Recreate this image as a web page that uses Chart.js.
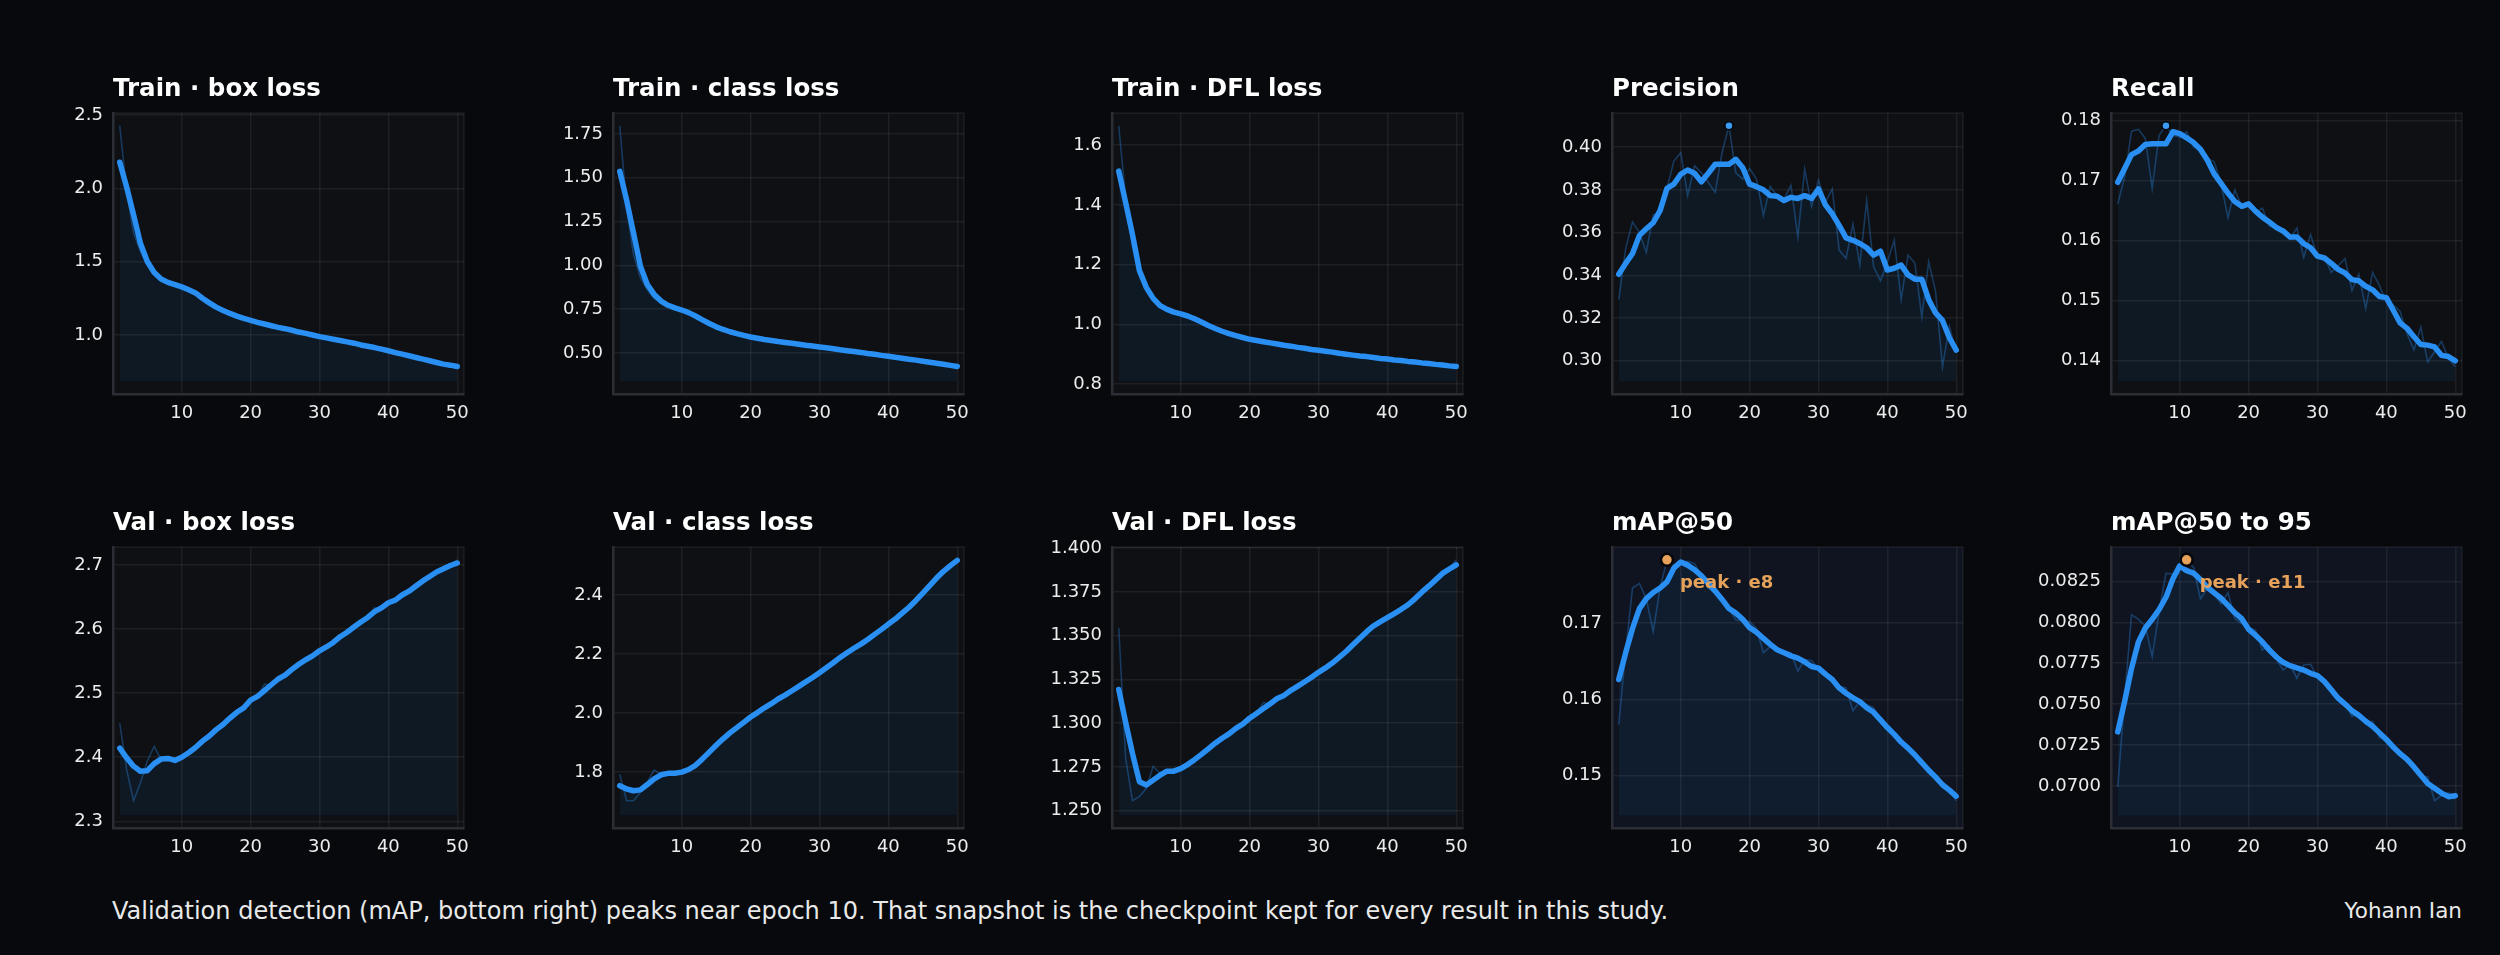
<!DOCTYPE html>
<html>
<head>
<meta charset="utf-8">
<title>Training curves</title>
<script src="https://cdn.jsdelivr.net/npm/chart.js@4.4.1/dist/chart.umd.min.js"></script>
<style>
  html, body { margin: 0; padding: 0; background: #07090c; }
  body { width: 2500px; height: 955px; position: relative; overflow: hidden; font-family: "DejaVu Sans", sans-serif; }
  canvas { position: absolute; }
  .note { position: absolute; color: #e9e9e9; line-height: 26px; white-space: nowrap; }
</style>
</head>
<body>
<div class="note" id="caption" style="left:112px; top:898px; font-size:24px;">Validation detection (mAP, bottom right) peaks near epoch 10. That snapshot is the checkpoint kept for every result in this study.</div>
<div class="note" id="author" style="right:38px; top:898px; font-size:21.5px;">Yohann Ian</div>

<script>
// ---- data ----
const epochs = [1, 2, 3, 4, 5, 6, 7, 8, 9, 10, 11, 12, 13, 14, 15, 16, 17, 18, 19, 20,
  21, 22, 23, 24, 25, 26, 27, 28, 29, 30, 31, 32, 33, 34, 35, 36, 37, 38, 39, 40,
  41, 42, 43, 44, 45, 46, 47, 48, 49, 50];
const xTicks = [10, 20, 30, 40, 50];

const trainBoxRaw = [2.428, 1.980, 1.700, 1.570, 1.480, 1.415, 1.375, 1.352, 1.338, 1.322,
  1.302, 1.280, 1.246, 1.215, 1.186, 1.164, 1.145, 1.127, 1.112, 1.098,
  1.085, 1.074, 1.062, 1.051, 1.042, 1.031, 1.019, 1.010, 0.999, 0.988,
  0.979, 0.970, 0.961, 0.952, 0.943, 0.931, 0.922, 0.913, 0.902, 0.891,
  0.879, 0.868, 0.857, 0.845, 0.834, 0.823, 0.811, 0.800, 0.792, 0.783];
const trainBoxSmooth = [2.179, 2.010, 1.822, 1.626, 1.501, 1.427, 1.382, 1.359, 1.343, 1.328,
  1.309, 1.287, 1.251, 1.219, 1.190, 1.167, 1.147, 1.129, 1.113, 1.099,
  1.086, 1.075, 1.063, 1.052, 1.043, 1.032, 1.020, 1.011, 1.000, 0.989,
  0.980, 0.971, 0.962, 0.953, 0.944, 0.932, 0.923, 0.914, 0.903, 0.892,
  0.880, 0.869, 0.858, 0.846, 0.835, 0.824, 0.812, 0.801, 0.794, 0.785];

const trainClsRaw = [1.797, 1.330, 1.060, 0.930, 0.860, 0.810, 0.785, 0.765, 0.752, 0.741,
  0.726, 0.707, 0.685, 0.665, 0.646, 0.632, 0.619, 0.608, 0.599, 0.590,
  0.583, 0.576, 0.570, 0.564, 0.559, 0.554, 0.549, 0.543, 0.538, 0.533,
  0.528, 0.523, 0.517, 0.512, 0.507, 0.502, 0.496, 0.491, 0.485, 0.480,
  0.474, 0.469, 0.463, 0.458, 0.452, 0.446, 0.440, 0.434, 0.428, 0.421];
const trainClsSmooth = [1.537, 1.372, 1.184, 0.995, 0.891, 0.834, 0.796, 0.772, 0.757, 0.745,
  0.730, 0.711, 0.689, 0.668, 0.649, 0.634, 0.621, 0.610, 0.600, 0.591,
  0.584, 0.577, 0.571, 0.565, 0.560, 0.555, 0.550, 0.544, 0.539, 0.534,
  0.529, 0.524, 0.518, 0.513, 0.508, 0.503, 0.497, 0.492, 0.486, 0.481,
  0.475, 0.470, 0.464, 0.459, 0.453, 0.447, 0.441, 0.435, 0.429, 0.423];

const trainDflRaw = [1.665, 1.420, 1.260, 1.170, 1.110, 1.078, 1.057, 1.046, 1.038, 1.032,
  1.025, 1.016, 1.005, 0.994, 0.984, 0.975, 0.968, 0.961, 0.955, 0.949,
  0.945, 0.941, 0.937, 0.933, 0.929, 0.926, 0.922, 0.919, 0.915, 0.912,
  0.909, 0.906, 0.902, 0.899, 0.896, 0.893, 0.891, 0.888, 0.885, 0.883,
  0.880, 0.878, 0.875, 0.873, 0.870, 0.868, 0.865, 0.863, 0.860, 0.858];
const trainDflSmooth = [1.513, 1.408, 1.300, 1.180, 1.124, 1.087, 1.063, 1.050, 1.041, 1.035,
  1.028, 1.019, 1.008, 0.996, 0.986, 0.977, 0.969, 0.962, 0.956, 0.950,
  0.946, 0.942, 0.938, 0.934, 0.930, 0.927, 0.923, 0.920, 0.916, 0.913,
  0.910, 0.907, 0.903, 0.900, 0.897, 0.894, 0.892, 0.889, 0.886, 0.884,
  0.881, 0.879, 0.876, 0.874, 0.871, 0.869, 0.866, 0.864, 0.861, 0.859];

const precRaw = [0.3286, 0.3525, 0.3650, 0.3600, 0.3507, 0.3683, 0.3690, 0.3807, 0.3935, 0.3974,
  0.3773, 0.3912, 0.3880, 0.3835, 0.3788, 0.3974, 0.4100, 0.3880, 0.3850, 0.3900,
  0.3850, 0.3680, 0.3816, 0.3773, 0.3757, 0.3822, 0.3580, 0.3897, 0.3723, 0.3845,
  0.3742, 0.3804, 0.3518, 0.3479, 0.3641, 0.3448, 0.3750, 0.3440, 0.3374, 0.3464,
  0.3564, 0.3286, 0.3495, 0.3456, 0.3204, 0.3464, 0.3325, 0.2972, 0.3162, 0.3039];
const precSmooth = [0.3405, 0.3456, 0.3502, 0.3587, 0.3618, 0.3646, 0.3703, 0.3807, 0.3827, 0.3873,
  0.3893, 0.3878, 0.3838, 0.3878, 0.3920, 0.3920, 0.3920, 0.3943, 0.3904, 0.3827,
  0.3815, 0.3800, 0.3773, 0.3770, 0.3750, 0.3765, 0.3760, 0.3773, 0.3760, 0.3804,
  0.3730, 0.3688, 0.3634, 0.3575, 0.3564, 0.3549, 0.3529, 0.3495, 0.3513, 0.3425,
  0.3433, 0.3448, 0.3402, 0.3382, 0.3382, 0.3286, 0.3224, 0.3189, 0.3108, 0.3050];

const recRaw = [0.1661, 0.1706, 0.1782, 0.1785, 0.1770, 0.1687, 0.1775, 0.1791, 0.1775, 0.1772,
  0.1781, 0.1756, 0.1750, 0.1737, 0.1731, 0.1695, 0.1638, 0.1684, 0.1657, 0.1662,
  0.1646, 0.1654, 0.1624, 0.1621, 0.1616, 0.1602, 0.1621, 0.1572, 0.1610, 0.1572,
  0.1572, 0.1547, 0.1558, 0.1570, 0.1517, 0.1544, 0.1487, 0.1547, 0.1525, 0.1497,
  0.1493, 0.1482, 0.1445, 0.1418, 0.1456, 0.1398, 0.1415, 0.1432, 0.1404, 0.1390];
const recSmooth = [0.1697, 0.1720, 0.1743, 0.1749, 0.1760, 0.1761, 0.1761, 0.1761, 0.1781, 0.1778,
  0.1771, 0.1763, 0.1752, 0.1734, 0.1711, 0.1695, 0.1679, 0.1665, 0.1657, 0.1661,
  0.1649, 0.1639, 0.1631, 0.1622, 0.1616, 0.1606, 0.1606, 0.1595, 0.1588, 0.1574,
  0.1571, 0.1562, 0.1552, 0.1546, 0.1535, 0.1533, 0.1524, 0.1518, 0.1507, 0.1505,
  0.1484, 0.1463, 0.1454, 0.1440, 0.1427, 0.1426, 0.1423, 0.1409, 0.1407, 0.1400];

const valBoxRaw = [2.453, 2.381, 2.332, 2.360, 2.394, 2.417, 2.396, 2.398, 2.393, 2.401,
  2.408, 2.416, 2.426, 2.434, 2.444, 2.452, 2.462, 2.471, 2.478, 2.490,
  2.494, 2.514, 2.512, 2.523, 2.527, 2.538, 2.544, 2.553, 2.557, 2.567,
  2.571, 2.580, 2.587, 2.596, 2.602, 2.612, 2.617, 2.633, 2.632, 2.642,
  2.644, 2.654, 2.658, 2.668, 2.677, 2.681, 2.690, 2.693, 2.700, 2.708];
const valBoxSmooth = [2.414, 2.399, 2.386, 2.378, 2.379, 2.390, 2.397, 2.398, 2.395, 2.400,
  2.407, 2.415, 2.425, 2.433, 2.443, 2.451, 2.461, 2.470, 2.477, 2.489,
  2.495, 2.504, 2.513, 2.522, 2.528, 2.537, 2.545, 2.552, 2.558, 2.566,
  2.572, 2.579, 2.588, 2.595, 2.603, 2.611, 2.618, 2.627, 2.633, 2.641,
  2.645, 2.653, 2.659, 2.667, 2.675, 2.682, 2.689, 2.694, 2.699, 2.703];

const valClsRaw = [1.791, 1.702, 1.702, 1.731, 1.765, 1.807, 1.791, 1.796, 1.794, 1.800,
  1.809, 1.823, 1.845, 1.868, 1.891, 1.913, 1.933, 1.951, 1.969, 1.987,
  2.002, 2.018, 2.032, 2.048, 2.061, 2.076, 2.091, 2.106, 2.121, 2.137,
  2.154, 2.171, 2.189, 2.205, 2.220, 2.234, 2.250, 2.267, 2.284, 2.302,
  2.319, 2.339, 2.359, 2.382, 2.407, 2.432, 2.458, 2.481, 2.500, 2.519];
const valClsSmooth = [1.753, 1.742, 1.736, 1.739, 1.757, 1.776, 1.790, 1.795, 1.795, 1.799,
  1.808, 1.822, 1.844, 1.867, 1.890, 1.912, 1.932, 1.950, 1.968, 1.986,
  2.001, 2.017, 2.031, 2.047, 2.060, 2.075, 2.090, 2.105, 2.120, 2.136,
  2.153, 2.170, 2.188, 2.204, 2.219, 2.233, 2.249, 2.266, 2.283, 2.301,
  2.318, 2.338, 2.358, 2.381, 2.406, 2.431, 2.457, 2.480, 2.499, 2.517];

const valDflRaw = [1.3546, 1.2798, 1.2557, 1.2581, 1.2628, 1.2754, 1.2713, 1.2722, 1.2728, 1.2743,
  1.2766, 1.2794, 1.2824, 1.2856, 1.2884, 1.2916, 1.2941, 1.2973, 1.2997, 1.3031,
  1.3058, 1.3118, 1.3110, 1.3143, 1.3157, 1.3190, 1.3214, 1.3239, 1.3261, 1.3293,
  1.3318, 1.3346, 1.3378, 1.3412, 1.3446, 1.3487, 1.3525, 1.3560, 1.3582, 1.3606,
  1.3629, 1.3653, 1.3675, 1.3700, 1.3751, 1.3785, 1.3821, 1.3858, 1.3883, 1.3934];
const valDflSmooth = [1.3193, 1.3005, 1.2826, 1.2666, 1.2647, 1.2675, 1.2703, 1.2726, 1.2726, 1.2741,
  1.2764, 1.2792, 1.2822, 1.2854, 1.2886, 1.2914, 1.2939, 1.2971, 1.2995, 1.3029,
  1.3056, 1.3084, 1.3112, 1.3141, 1.3159, 1.3188, 1.3212, 1.3237, 1.3263, 1.3291,
  1.3316, 1.3344, 1.3376, 1.3410, 1.3448, 1.3485, 1.3523, 1.3557, 1.3580, 1.3604,
  1.3627, 1.3651, 1.3677, 1.3711, 1.3749, 1.3783, 1.3819, 1.3856, 1.3881, 1.3905];

const map50Raw = [0.1567, 0.1663, 0.1746, 0.1752, 0.1732, 0.1689, 0.1746, 0.1783, 0.1776, 0.1780,
  0.1781, 0.1778, 0.1763, 0.1746, 0.1739, 0.1728, 0.1719, 0.1704, 0.1703, 0.1702,
  0.1693, 0.1661, 0.1669, 0.1665, 0.1663, 0.1661, 0.1637, 0.1652, 0.1651, 0.1639,
  0.1632, 0.1626, 0.1617, 0.1615, 0.1585, 0.1597, 0.1593, 0.1589, 0.1571, 0.1563,
  0.1555, 0.1545, 0.1535, 0.1528, 0.1516, 0.1508, 0.1497, 0.1489, 0.1480, 0.1467];
const map50Smooth = [0.1626, 0.1661, 0.1693, 0.1719, 0.1732, 0.1740, 0.1746, 0.1754, 0.1772, 0.1780,
  0.1776, 0.1770, 0.1762, 0.1752, 0.1742, 0.1731, 0.1719, 0.1713, 0.1705, 0.1694,
  0.1688, 0.1680, 0.1672, 0.1665, 0.1661, 0.1657, 0.1654, 0.1649, 0.1643, 0.1641,
  0.1633, 0.1626, 0.1615, 0.1608, 0.1602, 0.1597, 0.1589, 0.1583, 0.1573, 0.1563,
  0.1554, 0.1544, 0.1536, 0.1527, 0.1517, 0.1507, 0.1498, 0.1488, 0.1481, 0.1473];

const map5095Raw = [0.06994, 0.07536, 0.08046, 0.08018, 0.07977, 0.07789, 0.08062, 0.08299, 0.08295, 0.08335,
  0.08382, 0.08335, 0.08143, 0.08208, 0.08174, 0.08113, 0.08180, 0.08022, 0.07992, 0.07971,
  0.07951, 0.07830, 0.07856, 0.07779, 0.07708, 0.07743, 0.07658, 0.07739, 0.07743, 0.07662,
  0.07627, 0.07581, 0.07540, 0.07506, 0.07425, 0.07445, 0.07375, 0.07395, 0.07294, 0.07284,
  0.07233, 0.07193, 0.07156, 0.07102, 0.07061, 0.07055, 0.06909, 0.06940, 0.06960, 0.06919];
const map5095Smooth = [0.07330, 0.07516, 0.07718, 0.07880, 0.07965, 0.08018, 0.08078, 0.08153, 0.08265, 0.08345,
  0.08315, 0.08301, 0.08261, 0.08214, 0.08180, 0.08147, 0.08103, 0.08058, 0.08022, 0.07957,
  0.07921, 0.07880, 0.07830, 0.07789, 0.07755, 0.07735, 0.07722, 0.07708, 0.07688, 0.07674,
  0.07638, 0.07587, 0.07536, 0.07500, 0.07460, 0.07431, 0.07395, 0.07364, 0.07324, 0.07284,
  0.07237, 0.07197, 0.07162, 0.07116, 0.07065, 0.07015, 0.06986, 0.06956, 0.06934, 0.06940];

// y tick labels per panel
const trainBoxTicks = [1.0, 1.5, 2.0, 2.5];
const trainClsTicks = [0.50, 0.75, 1.00, 1.25, 1.50, 1.75];
const trainDflTicks = [0.8, 1.0, 1.2, 1.4, 1.6];
const precTicks = [0.30, 0.32, 0.34, 0.36, 0.38, 0.40];
const recTicks = [0.14, 0.15, 0.16, 0.17, 0.18];
const valBoxTicks = [2.3, 2.4, 2.5, 2.6, 2.7];
const valClsTicks = [1.8, 2.0, 2.2, 2.4];
const valDflTicks = [1.250, 1.275, 1.300, 1.325, 1.350, 1.375, 1.400];
const map50Ticks = [0.15, 0.16, 0.17];
const map5095Ticks = [0.0700, 0.0725, 0.0750, 0.0775, 0.0800, 0.0825];

const panels = [
  { title: "Train \u00b7 box loss", raw: trainBoxRaw, smooth: trainBoxSmooth, ticks: trainBoxTicks, dec: 1 },
  { title: "Train \u00b7 class loss", raw: trainClsRaw, smooth: trainClsSmooth, ticks: trainClsTicks, dec: 2 },
  { title: "Train \u00b7 DFL loss", raw: trainDflRaw, smooth: trainDflSmooth, ticks: trainDflTicks, dec: 1 },
  { title: "Precision", raw: precRaw, smooth: precSmooth, ticks: precTicks, dec: 2, peak: "dot" },
  { title: "Recall", raw: recRaw, smooth: recSmooth, ticks: recTicks, dec: 2, peak: "dot" },
  { title: "Val \u00b7 box loss", raw: valBoxRaw, smooth: valBoxSmooth, ticks: valBoxTicks, dec: 1 },
  { title: "Val \u00b7 class loss", raw: valClsRaw, smooth: valClsSmooth, ticks: valClsTicks, dec: 1 },
  { title: "Val \u00b7 DFL loss", raw: valDflRaw, smooth: valDflSmooth, ticks: valDflTicks, dec: 3 },
  { title: "mAP@50", raw: map50Raw, smooth: map50Smooth, ticks: map50Ticks, dec: 2, peak: "label", focus: true },
  { title: "mAP@50 to 95", raw: map5095Raw, smooth: map5095Smooth, ticks: map5095Ticks, dec: 4, peak: "label", focus: true }
];

// ---- layout / style ----
const PLOT_X0 = 113, PLOT_DX = 499.5, PLOT_W = 351, PLOT_H = 281;
const ROW_TOP = [113, 547];
const AXIS_W = 80, PAD_T = 50, PAD_R = 20, XAXIS_H = 40;

const BLUE = "#2a8ff2";
const RAW_BLUE = "rgba(42, 143, 242, 0.33)";
const FILL = "rgba(42, 143, 242, 0.075)";
const ORANGE = "#e6a25a";
const TEXT = "#ececec";
const GRID = "rgba(255, 255, 255, 0.065)";
const SPINE = "#2b2e34";

Chart.defaults.font.family = '"DejaVu Sans", sans-serif';
Chart.defaults.color = TEXT;

const panelDecor = {
  id: "panelDecor",
  beforeDraw(chart, args, opts) {
    const { ctx, chartArea: a } = chart;
    ctx.save();
    ctx.fillStyle = opts.bg;
    ctx.fillRect(a.left, a.top, a.right - a.left, a.bottom - a.top);
    ctx.strokeStyle = "rgba(255, 255, 255, 0.07)";
    ctx.lineWidth = 1.5;
    ctx.beginPath();
    ctx.moveTo(a.left, a.top);
    ctx.lineTo(a.right, a.top);
    ctx.lineTo(a.right, a.bottom);
    ctx.stroke();
    ctx.restore();
  },
  afterDraw(chart, args, opts) {
    const { ctx, chartArea: a } = chart;
    ctx.save();
    ctx.fillStyle = "#ffffff";
    ctx.font = 'bold 24.5px "DejaVu Sans", sans-serif';
    ctx.textBaseline = "alphabetic";
    ctx.textAlign = "left";
    ctx.fillText(opts.title, a.left, a.top - 17);
    if (opts.peakText) {
      const x = chart.scales.x.getPixelForValue(opts.peakX);
      const y = chart.scales.y.getPixelForValue(opts.peakY);
      ctx.fillStyle = ORANGE;
      ctx.font = 'bold 18px "DejaVu Sans", sans-serif';
      ctx.textBaseline = "middle";
      ctx.fillText(opts.peakText, x + 13, y + 24);
    }
    ctx.restore();
  }
};

function pts(arr) {
  return epochs.map((e, k) => ({ x: e, y: arr[k] }));
}

panels.forEach((p, i) => {
  const col = i % 5, row = Math.floor(i / 5);
  const left = Math.round(PLOT_X0 + col * PLOT_DX), top = ROW_TOP[row];

  const canvas = document.createElement("canvas");
  canvas.width = AXIS_W + PLOT_W + PAD_R;
  canvas.height = PAD_T + PLOT_H + XAXIS_H;
  canvas.style.left = (left - AXIS_W) + "px";
  canvas.style.top = (top - PAD_T) + "px";
  canvas.style.width = canvas.width + "px";
  canvas.style.height = canvas.height + "px";
  document.body.appendChild(canvas);

  const all = p.raw.concat(p.smooth);
  const hi = Math.max(...all), lo = Math.min(...all);
  const base = lo - 0.06 * (hi - lo);
  const pad = 0.05 * (hi - base);

  const datasets = [
    {
      label: "smoothed", data: pts(p.smooth), order: 1,
      borderColor: BLUE, borderWidth: 5.5, borderCapStyle: "round", borderJoinStyle: "round",
      pointRadius: 0, tension: 0, fill: { value: base }, backgroundColor: FILL
    },
    {
      label: "raw", data: pts(p.raw), order: 2,
      borderColor: RAW_BLUE, borderWidth: 1.6, pointRadius: 0, tension: 0, fill: false
    }
  ];

  let peakIdx = -1;
  if (p.peak) {
    peakIdx = p.raw.indexOf(Math.max(...p.raw));
    const big = p.peak === "label";
    datasets.push({
      label: "peak", data: [{ x: epochs[peakIdx], y: p.raw[peakIdx] }], order: 0,
      showLine: false, fill: false,
      pointRadius: big ? 6 : 4, pointBorderWidth: big ? 2.5 : 1.5,
      pointBackgroundColor: big ? ORANGE : "#3b9cf5", pointBorderColor: "#05070a"
    });
  }

  new Chart(canvas, {
    type: "line",
    data: { datasets },
    plugins: [panelDecor],
    options: {
      responsive: false,
      animation: false,
      events: [],
      layout: { padding: { top: PAD_T, right: PAD_R, left: 0, bottom: 0 } },
      plugins: {
        legend: { display: false },
        tooltip: { enabled: false },
        panelDecor: {
          title: p.title,
          bg: p.focus ? "#0f1420" : "#0e1014",
          peakText: p.peak === "label" ? "peak \u00b7 e" + epochs[peakIdx] : null,
          peakX: peakIdx >= 0 ? epochs[peakIdx] : null,
          peakY: peakIdx >= 0 ? p.raw[peakIdx] : null
        }
      },
      scales: {
        x: {
          type: "linear", min: 0.02, max: 50.98,
          afterFit(scale) { scale.height = XAXIS_H; },
          afterBuildTicks(scale) { scale.ticks = xTicks.map(v => ({ value: v })); },
          grid: { color: GRID, lineWidth: 1.5, drawTicks: false },
          border: { display: true, color: SPINE, width: 2.5 },
          ticks: { padding: 9, font: { size: 18 }, color: TEXT, callback: v => String(v) }
        },
        y: {
          type: "linear", min: base - pad, max: hi + pad,
          afterFit(scale) { scale.width = AXIS_W; },
          afterBuildTicks(scale) {
            scale.ticks = p.ticks.filter(v => v >= scale.min && v <= scale.max).map(v => ({ value: v }));
          },
          grid: { color: GRID, lineWidth: 1.5, drawTicks: false },
          border: { display: true, color: SPINE, width: 2.5 },
          ticks: { padding: 10, font: { size: 18 }, color: TEXT, callback: v => Number(v).toFixed(p.dec) }
        }
      }
    }
  });
});
</script>
</body>
</html>
